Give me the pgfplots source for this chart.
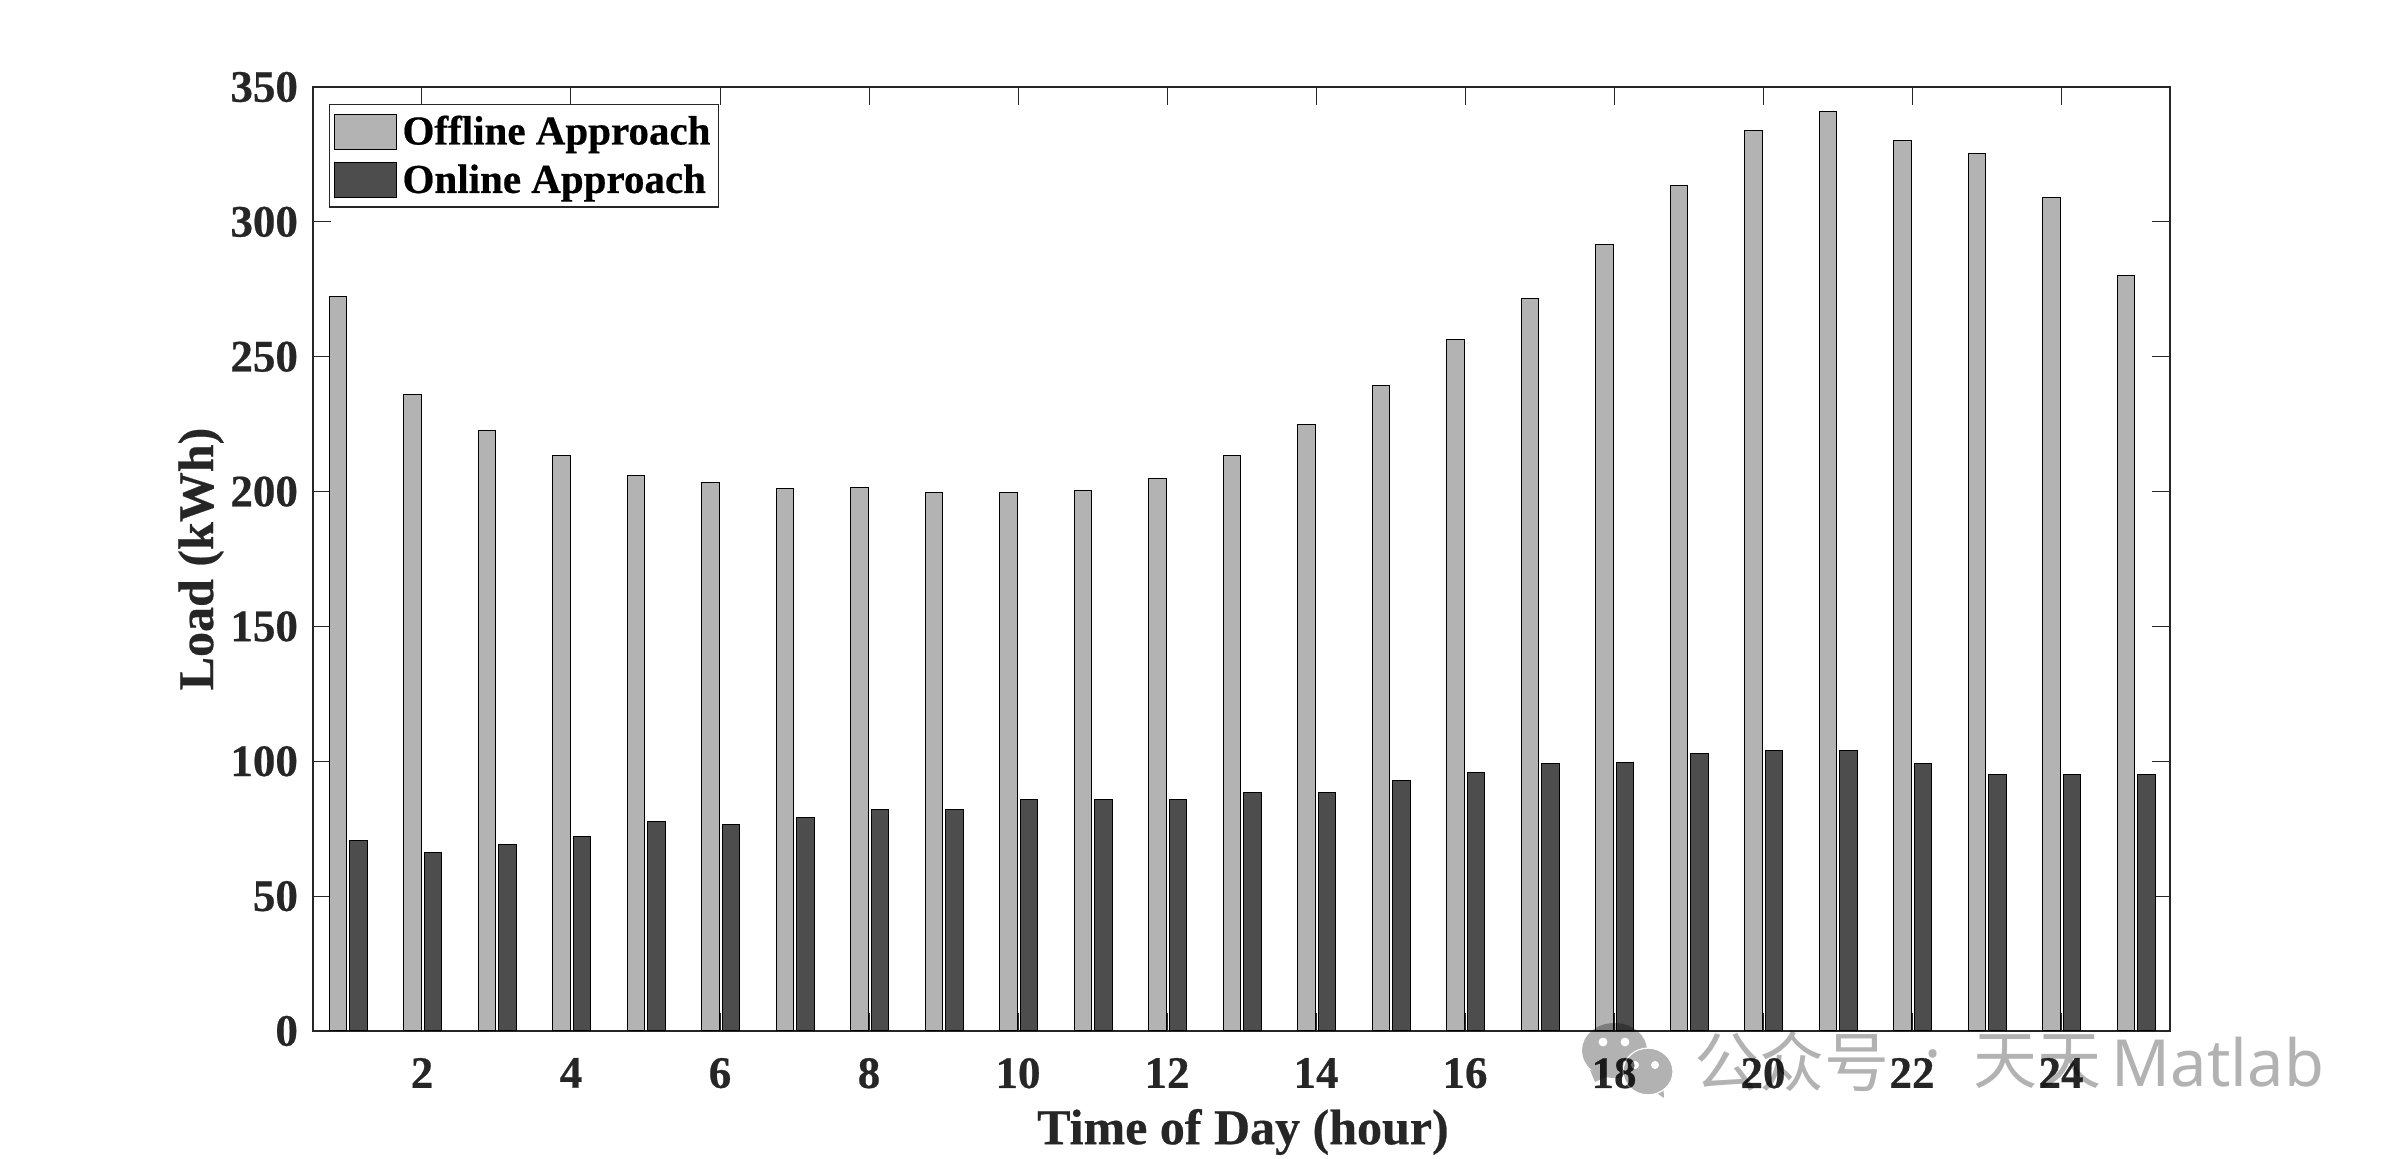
\documentclass[border=0pt]{standalone}
\usepackage{pgfplots}
\usepackage{pgfplotstable}
\usepackage{fontspec}
\pgfplotsset{compat=1.18}
\setmainfont{Liberation Serif}[BoldFeatures={FakeBold=0.5}]
\setsansfont{Noto Sans}
\newfontfamily\cjk{Noto Sans CJK SC}

\definecolor{offlinegray}{HTML}{B3B3B3}
\definecolor{onlinegray}{HTML}{4D4D4D}
\definecolor{axisgray}{HTML}{262626}

\pgfplotstableread{
hour offline online
1  272.5 70.5
2  236.0 66.0
3  222.5 69.0
4  213.5 72.0
5  206.0 77.5
6  203.5 76.5
7  201.0 79.0
8  201.5 82.0
9  199.5 82.0
10 199.5 86.0
11 200.5 86.0
12 205.0 86.0
13 213.5 88.5
14 225.0 88.5
15 239.5 93.0
16 256.5 96.0
17 271.5 99.0
18 291.5 99.5
19 313.5 103.0
20 334.0 104.0
21 341.0 104.0
22 330.0 99.0
23 325.5 95.0
24 309.0 95.0
25 280.0 95.0
}\loadtable

\pgfplotsset{
  swatch/.style={legend image code/.code={
    \draw[##1] (0pt,-8.75pt) rectangle (31pt,8.75pt);
  }},
}

\begin{document}
\begin{tikzpicture}
  \path[use as bounding box] (0,0) rectangle (1200pt,579.5pt);
  \begin{axis}[
    at={(156.5pt,64pt)}, anchor=south west,
    scale only axis, width=928.5pt, height=472pt,
    ybar, bar width=0.23,
    xmin=0.537, xmax=25.463,
    ymin=0, ymax=350,
    xtick={2,4,...,24},
    ytick={0,50,...,350},
    minor tick num=0,
    tick align=inside,
    major tick length=9pt,
    axis line style={color=axisgray, line width=0.7pt},
    tick style={color=axisgray, line width=0.5pt},
    /pgf/number format/assume math mode=true,
    tick label style={font=\fontsize{22.5}{24}\selectfont\bfseries, text=axisgray},
    xticklabel style={yshift=-10pt},
    yticklabel style={xshift=-4pt},
    xlabel={Time of Day (hour)},
    ylabel={Load (kWh)},
    every axis x label/.style={at={(axis description cs:0.5008,-0.107)}, anchor=center,
      font=\fontsize{25}{27}\selectfont\bfseries, text=axisgray},
    every axis y label/.style={at={(axis description cs:-0.0603,0.5)}, anchor=center, rotate=90,
      font=\fontsize{25}{27}\selectfont\bfseries, text=axisgray},
    legend cell align=left,
    legend style={
      at={(axis description cs:0.0086,0.982)}, anchor=north west,
      draw=axisgray, line width=0.6pt,
      font=\fontsize{20.5}{22}\selectfont\bfseries,
      inner xsep=2pt, inner ysep=3.5pt, row sep=4.5pt,
      /tikz/column 1/.style={column sep=1pt},
    },
  ]
    \addplot[fill=offlinegray, draw=black, line width=0.5pt, bar shift=-0.128, swatch]
      table[x=hour, y=offline] {\loadtable};
    \addlegendentry{Offline Approach}
    \addplot[fill=onlinegray, draw=black, line width=0.5pt, bar shift=0.148, swatch]
      table[x=hour, y=online] {\loadtable};
    \addlegendentry{Online Approach}
  \end{axis}

  % watermark over the lower right corner
  \begin{scope}[transparency group, opacity=0.3]
    \fill[black] (807.25pt,54.25pt) ellipse (16.25pt and 13.75pt);
    \fill[black] (795pt,44.5pt) -- (797.5pt,38.5pt) -- (805pt,42pt) -- cycle;
    \fill[black] (826pt,34.5pt) -- (832pt,30.5pt) -- (831.5pt,39.5pt) -- cycle;
    \fill[black, draw=white, line width=0.6pt] (824pt,43.75pt) ellipse (12.5pt and 11.7pt);
    \fill[white] (801.5pt,58.5pt) circle (2.2pt) (812.5pt,58.5pt) circle (2.2pt);
    \fill[white] (817.5pt,47pt) circle (2pt) (827.5pt,47pt) circle (2pt);
  \end{scope}
  \node[text=black, text opacity=0.3, font=\cjk\fontsize{32.5}{34}\selectfont] at (896pt,48.5pt) {公众号};
  \node[text=black, text opacity=0.3, font=\sffamily\bfseries\fontsize{32}{34}\selectfont] at (966.5pt,48pt) {·};
  \node[text=black, text opacity=0.3, font=\cjk\fontsize{32}{34}\selectfont] at (1018.5pt,48.5pt) {天天};
  \node[text=black, text opacity=0.3, font=\sffamily\fontsize{32.5}{34}\selectfont] at (1109pt,48.5pt) {Matlab};
\end{tikzpicture}
\end{document}
